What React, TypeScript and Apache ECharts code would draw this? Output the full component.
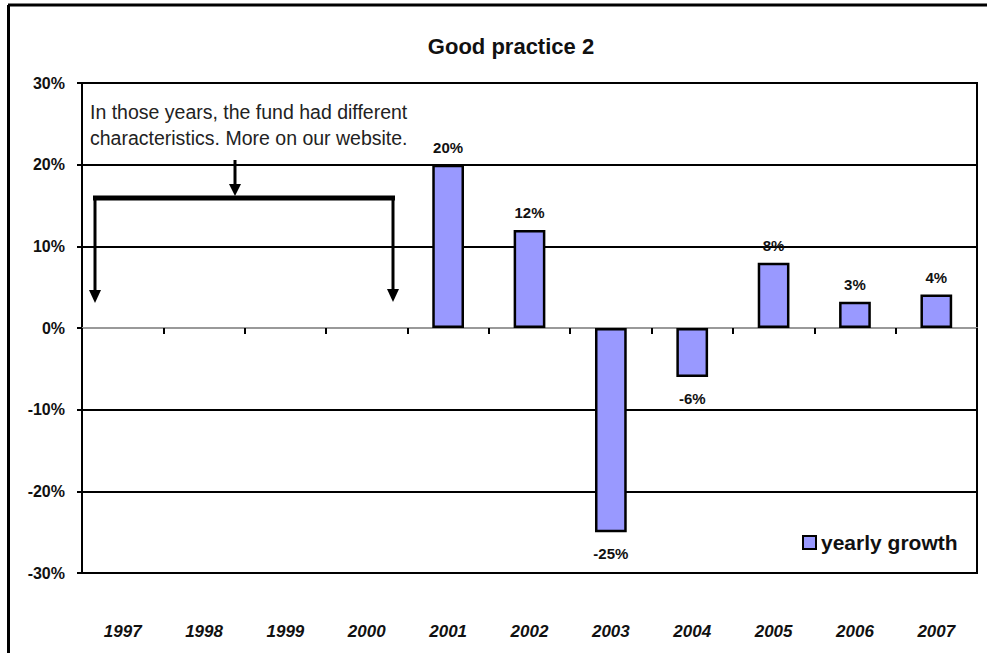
import React, { useEffect, useRef } from "react";
import * as echarts from "echarts";

const title = "Good practice 2";
const years = ["1997", "1998", "1999", "2000", "2001", "2002", "2003", "2004", "2005", "2006", "2007"];
const growth: (number | null)[] = [null, null, null, null, 20, 12, -25, -6, 8, 3.2, 4.1];
const growthLabels = ["", "", "", "", "20%", "12%", "-25%", "-6%", "8%", "3%", "4%"];
const seriesName = "yearly growth";
const yTicks = { min: -30, max: 30, interval: 10 };
const noteLines = ["In those years, the fund had different", "characteristics. More on our website."];

const FONT = 'Arial, "Liberation Sans", sans-serif';

export default function App() {
  const ref = useRef<HTMLDivElement>(null);
  useEffect(() => {
    if (!ref.current) return;
    const chart = echarts.init(ref.current, null, { renderer: "svg" });
    const data = growth.map((v, i) =>
      v === null
        ? null
        : {
            value: v,
            label: {
              show: true,
              position: v >= 0 ? "top" : "bottom",
              distance: v >= 0 ? 10 : 14,
              formatter: growthLabels[i],
            },
          }
    );
    chart.setOption({
      animation: false,
      backgroundColor: "#fff",
      title: {
        text: title,
        left: 506,
        top: 30,
        textAlign: "center",
        textStyle: { fontFamily: FONT, fontSize: 22, fontWeight: "bold", color: "#111" },
      },
      legend: {
        left: 802,
        top: 532,
        padding: 0,
        icon: "rect",
        itemWidth: 13,
        itemHeight: 13,
        itemStyle: { color: "#9999ff", borderColor: "#000", borderWidth: 2 },
        textStyle: { fontFamily: FONT, fontSize: 21, fontWeight: "bold", color: "#111" },
        data: [seriesName],
      },
      grid: {
        left: 82,
        top: 83,
        right: 10,
        bottom: 80,
        show: true,
        borderColor: "#000",
        borderWidth: 2,
        backgroundColor: "transparent",
      },
      xAxis: [
        {
          type: "category",
          data: years,
          position: "bottom",
          axisLine: { show: false, onZero: false },
          axisTick: { show: false },
          axisLabel: {
            margin: 50,
            fontFamily: FONT,
            fontSize: 17,
            fontWeight: "bold",
            fontStyle: "italic",
            color: "#111",
          },
        },
        {
          type: "category",
          data: years,
          position: "bottom",
          axisLine: { show: true, onZero: true, lineStyle: { color: "#999", width: 2 } },
          axisTick: { show: true, length: 6, lineStyle: { color: "#000", width: 2 } },
          axisLabel: { show: false },
        },
      ],
      yAxis: {
        type: "value",
        min: yTicks.min,
        max: yTicks.max,
        interval: yTicks.interval,
        axisLine: { show: false },
        axisTick: { show: true, length: 5, lineStyle: { color: "#000", width: 2 } },
        axisLabel: {
          margin: 17,
          formatter: (v: number) => `${v}%`,
          fontFamily: FONT,
          fontSize: 16,
          fontWeight: "bold",
          color: "#111",
        },
        splitLine: {
          show: true,
          lineStyle: { color: ["#000", "#000", "#000", "rgba(0,0,0,0)", "#000", "#000", "#000"], width: 2 },
        },
      },
      series: [
        {
          name: seriesName,
          type: "bar",
          xAxisIndex: 0,
          data,
          barWidth: "39%",
          itemStyle: { color: "#9999ff", borderColor: "#000", borderWidth: 2.5 },
          label: {
            fontFamily: FONT,
            fontSize: 15,
            fontWeight: "bold",
            color: "#111",
          },
          z: 3,
        },
      ],
      graphic: [
        { type: "line", shape: { x1: 8, y1: 5, x2: 987, y2: 5 }, style: { stroke: "#000", lineWidth: 3 } },
        { type: "line", shape: { x1: 8.5, y1: 5, x2: 8.5, y2: 653 }, style: { stroke: "#000", lineWidth: 3 } },
        {
          type: "text",
          left: 90,
          top: 99,
          style: {
            text: noteLines.join("\n"),
            fontFamily: FONT,
            fontSize: 19.5,
            lineHeight: 26,
            fill: "#222",
          },
          z: 10,
        },
        { type: "line", shape: { x1: 93, y1: 198, x2: 395, y2: 198 }, style: { stroke: "#000", lineWidth: 5 }, z: 10 },
        { type: "line", shape: { x1: 235, y1: 160, x2: 235, y2: 186 }, style: { stroke: "#000", lineWidth: 3 }, z: 10 },
        { type: "polygon", shape: { points: [[229, 184], [241, 184], [235, 196]] }, style: { fill: "#000" }, z: 10 },
        { type: "line", shape: { x1: 95, y1: 198, x2: 95, y2: 292 }, style: { stroke: "#000", lineWidth: 3 }, z: 10 },
        { type: "polygon", shape: { points: [[89, 290], [101, 290], [95, 303]] }, style: { fill: "#000" }, z: 10 },
        { type: "line", shape: { x1: 393, y1: 198, x2: 393, y2: 291 }, style: { stroke: "#000", lineWidth: 3 }, z: 10 },
        { type: "polygon", shape: { points: [[387, 289], [399, 289], [393, 302]] }, style: { fill: "#000" }, z: 10 },
      ],
    });
    return () => chart.dispose();
  }, []);
  return (
    <div
      ref={ref}
      style={{ position: "fixed", left: 0, top: 0, width: 987, height: 653, background: "#fff" }}
    />
  );
}
